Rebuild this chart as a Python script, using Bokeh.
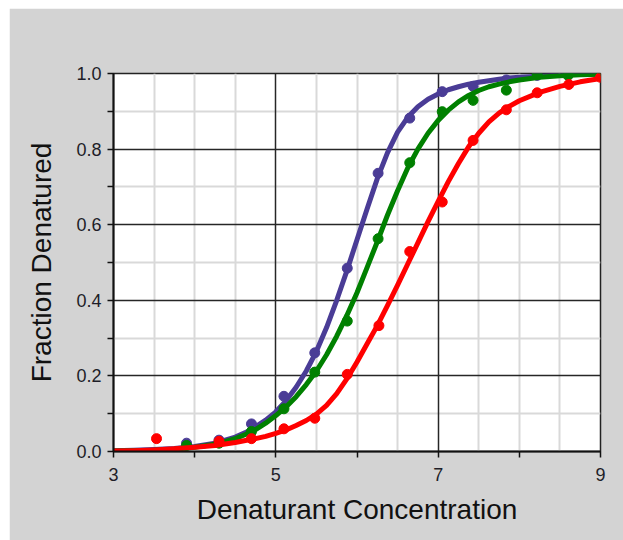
from bokeh.plotting import figure
from bokeh.models import FixedTicker, Grid, Range1d, PrintfTickFormatter
from bokeh.embed import file_html
from bokeh.resources import INLINE

# ---- data ----
curve_x = [3.0, 3.25, 3.5, 3.75, 4.0, 4.25, 4.5, 4.625, 4.75, 4.875, 5.0, 5.125, 5.25,
           5.375, 5.5, 5.625, 5.75, 5.875, 6.0, 6.125, 6.25, 6.375, 6.5, 6.625, 6.75,
           6.875, 7.0, 7.125, 7.25, 7.375, 7.5, 7.625, 7.75, 7.875, 8.0, 8.25, 8.5,
           8.75, 9.0]
blue_curve = [0.002, 0.003, 0.005, 0.008, 0.013, 0.022, 0.038, 0.050, 0.065, 0.083,
              0.105, 0.134, 0.170, 0.213, 0.265, 0.328, 0.400, 0.478, 0.560, 0.642,
              0.722, 0.790, 0.845, 0.884, 0.912, 0.932, 0.946, 0.957, 0.965, 0.972,
              0.977, 0.981, 0.985, 0.988, 0.990, 0.993, 0.996, 0.998, 0.999]
green_curve = [0.001, 0.002, 0.003, 0.006, 0.011, 0.019, 0.034, 0.045, 0.058, 0.075,
               0.095, 0.118, 0.145, 0.177, 0.213, 0.256, 0.305, 0.360, 0.420, 0.487,
               0.555, 0.625, 0.690, 0.750, 0.800, 0.842, 0.876, 0.903, 0.925, 0.942,
               0.955, 0.965, 0.972, 0.978, 0.983, 0.990, 0.994, 0.997, 0.998]
red_curve = [0.001, 0.002, 0.004, 0.007, 0.011, 0.016, 0.024, 0.029, 0.034, 0.040,
             0.048, 0.057, 0.069, 0.082, 0.099, 0.122, 0.153, 0.192, 0.237, 0.285,
             0.333, 0.386, 0.440, 0.496, 0.552, 0.608, 0.662, 0.714, 0.762, 0.806,
             0.842, 0.872, 0.895, 0.913, 0.928, 0.950, 0.966, 0.978, 0.987]

blue_x = [3.9, 4.3, 4.7, 5.1, 5.48, 5.88, 6.26, 6.65, 7.05, 7.43, 7.84, 8.22, 8.6, 9.0]
blue_y = [0.022, 0.03, 0.073, 0.146, 0.261, 0.485, 0.736, 0.882, 0.952, 0.966, 0.983, 0.995, 0.998, 1.0]
green_x = [3.9, 4.3, 4.7, 5.1, 5.48, 5.88, 6.26, 6.65, 7.05, 7.43, 7.84, 8.22, 8.6, 9.0]
green_y = [0.016, 0.022, 0.053, 0.113, 0.21, 0.345, 0.563, 0.764, 0.899, 0.929, 0.956, 0.997, 0.995, 0.998]
red_x = [3.53, 4.3, 4.7, 5.1, 5.48, 5.88, 6.27, 6.65, 7.05, 7.43, 7.84, 8.22, 8.61, 9.0]
red_y = [0.034, 0.027, 0.034, 0.06, 0.088, 0.204, 0.333, 0.529, 0.66, 0.823, 0.904, 0.949, 0.971, 0.99]

x_major = [3, 5, 7, 9]
x_minor = [4, 6, 8]
y_major = [0.0, 0.2, 0.4, 0.6, 0.8, 1.0]
y_minor = [0.1, 0.3, 0.5, 0.7, 0.9]
x_grid_light = [3.5, 4, 4.5, 5.5, 6, 6.5, 7.5, 8, 8.5]
x_grid_dark = [5, 7, 9]
y_grid_light = [0.1, 0.3, 0.5, 0.7, 0.9]
y_grid_dark = [0.2, 0.4, 0.6, 0.8, 1.0]

BLUE = "#4A3C96"
GREEN = "#008000"
RED = "#FF0000"
GRAY_BG = "#D3D3D3"

p = figure(width=614, height=532, output_backend="svg", toolbar_location=None,
           x_range=Range1d(3, 9), y_range=Range1d(0, 1),
           min_border_left=104, min_border_right=23, min_border_top=65, min_border_bottom=89)
p.margin = (8, 0, 0, 9)
p.border_fill_color = GRAY_BG
p.background_fill_color = "white"
p.outline_line_color = "#222222"
p.outline_line_width = 1.5
p.grid.visible = False

for ticks, dim, color, w in [(x_grid_light, 0, "#D9D9D9", 2), (y_grid_light, 1, "#D9D9D9", 2),
                             (x_grid_dark, 0, "#262626", 1.5), (y_grid_dark, 1, "#262626", 1.5)]:
    g = Grid(dimension=dim, ticker=FixedTicker(ticks=ticks))
    g.grid_line_color = color
    g.grid_line_width = w
    p.add_layout(g)

p.xaxis.ticker = FixedTicker(ticks=x_major, minor_ticks=x_minor)
p.yaxis.ticker = FixedTicker(ticks=y_major, minor_ticks=y_minor)
p.xaxis.formatter = PrintfTickFormatter(format="%d")
p.yaxis.formatter = PrintfTickFormatter(format="%.1f")

for ax in (p.xaxis, p.yaxis):
    ax.axis_line_color = "#111111"
    ax.axis_line_width = 2
    ax.major_tick_line_color = "#111111"
    ax.minor_tick_line_color = "#111111"
    ax.major_tick_line_width = 1.5
    ax.minor_tick_line_width = 1.5
    ax.major_tick_out = 6
    ax.major_tick_in = 0
    ax.minor_tick_out = 6
    ax.minor_tick_in = 0
    ax.major_label_text_font = "Liberation Sans"
    ax.major_label_text_font_size = "18px"
    ax.major_label_text_color = "#1e1e28"
    ax.axis_label_text_font = "Liberation Sans"
    ax.axis_label_text_font_size = "28px"
    ax.axis_label_text_font_style = "normal"
    ax.axis_label_text_color = "#111111"

p.xaxis.axis_label = "Denaturant Concentration"
p.yaxis.axis_label = "Fraction Denatured"
p.xaxis.major_label_standoff = 10
p.yaxis.major_label_standoff = 6
p.xaxis.axis_label_standoff = 10
p.yaxis.axis_label_standoff = 16

for cy, px, py, col in [(blue_curve, blue_x, blue_y, BLUE),
                        (green_curve, green_x, green_y, GREEN),
                        (red_curve, red_x, red_y, RED)]:
    p.line(curve_x, cy, line_color=col, line_width=5, line_join="round", line_cap="round")
    p.scatter(px, py, size=10, fill_color=col, line_color=col)

open("out.html", "w").write(file_html(p, INLINE))
